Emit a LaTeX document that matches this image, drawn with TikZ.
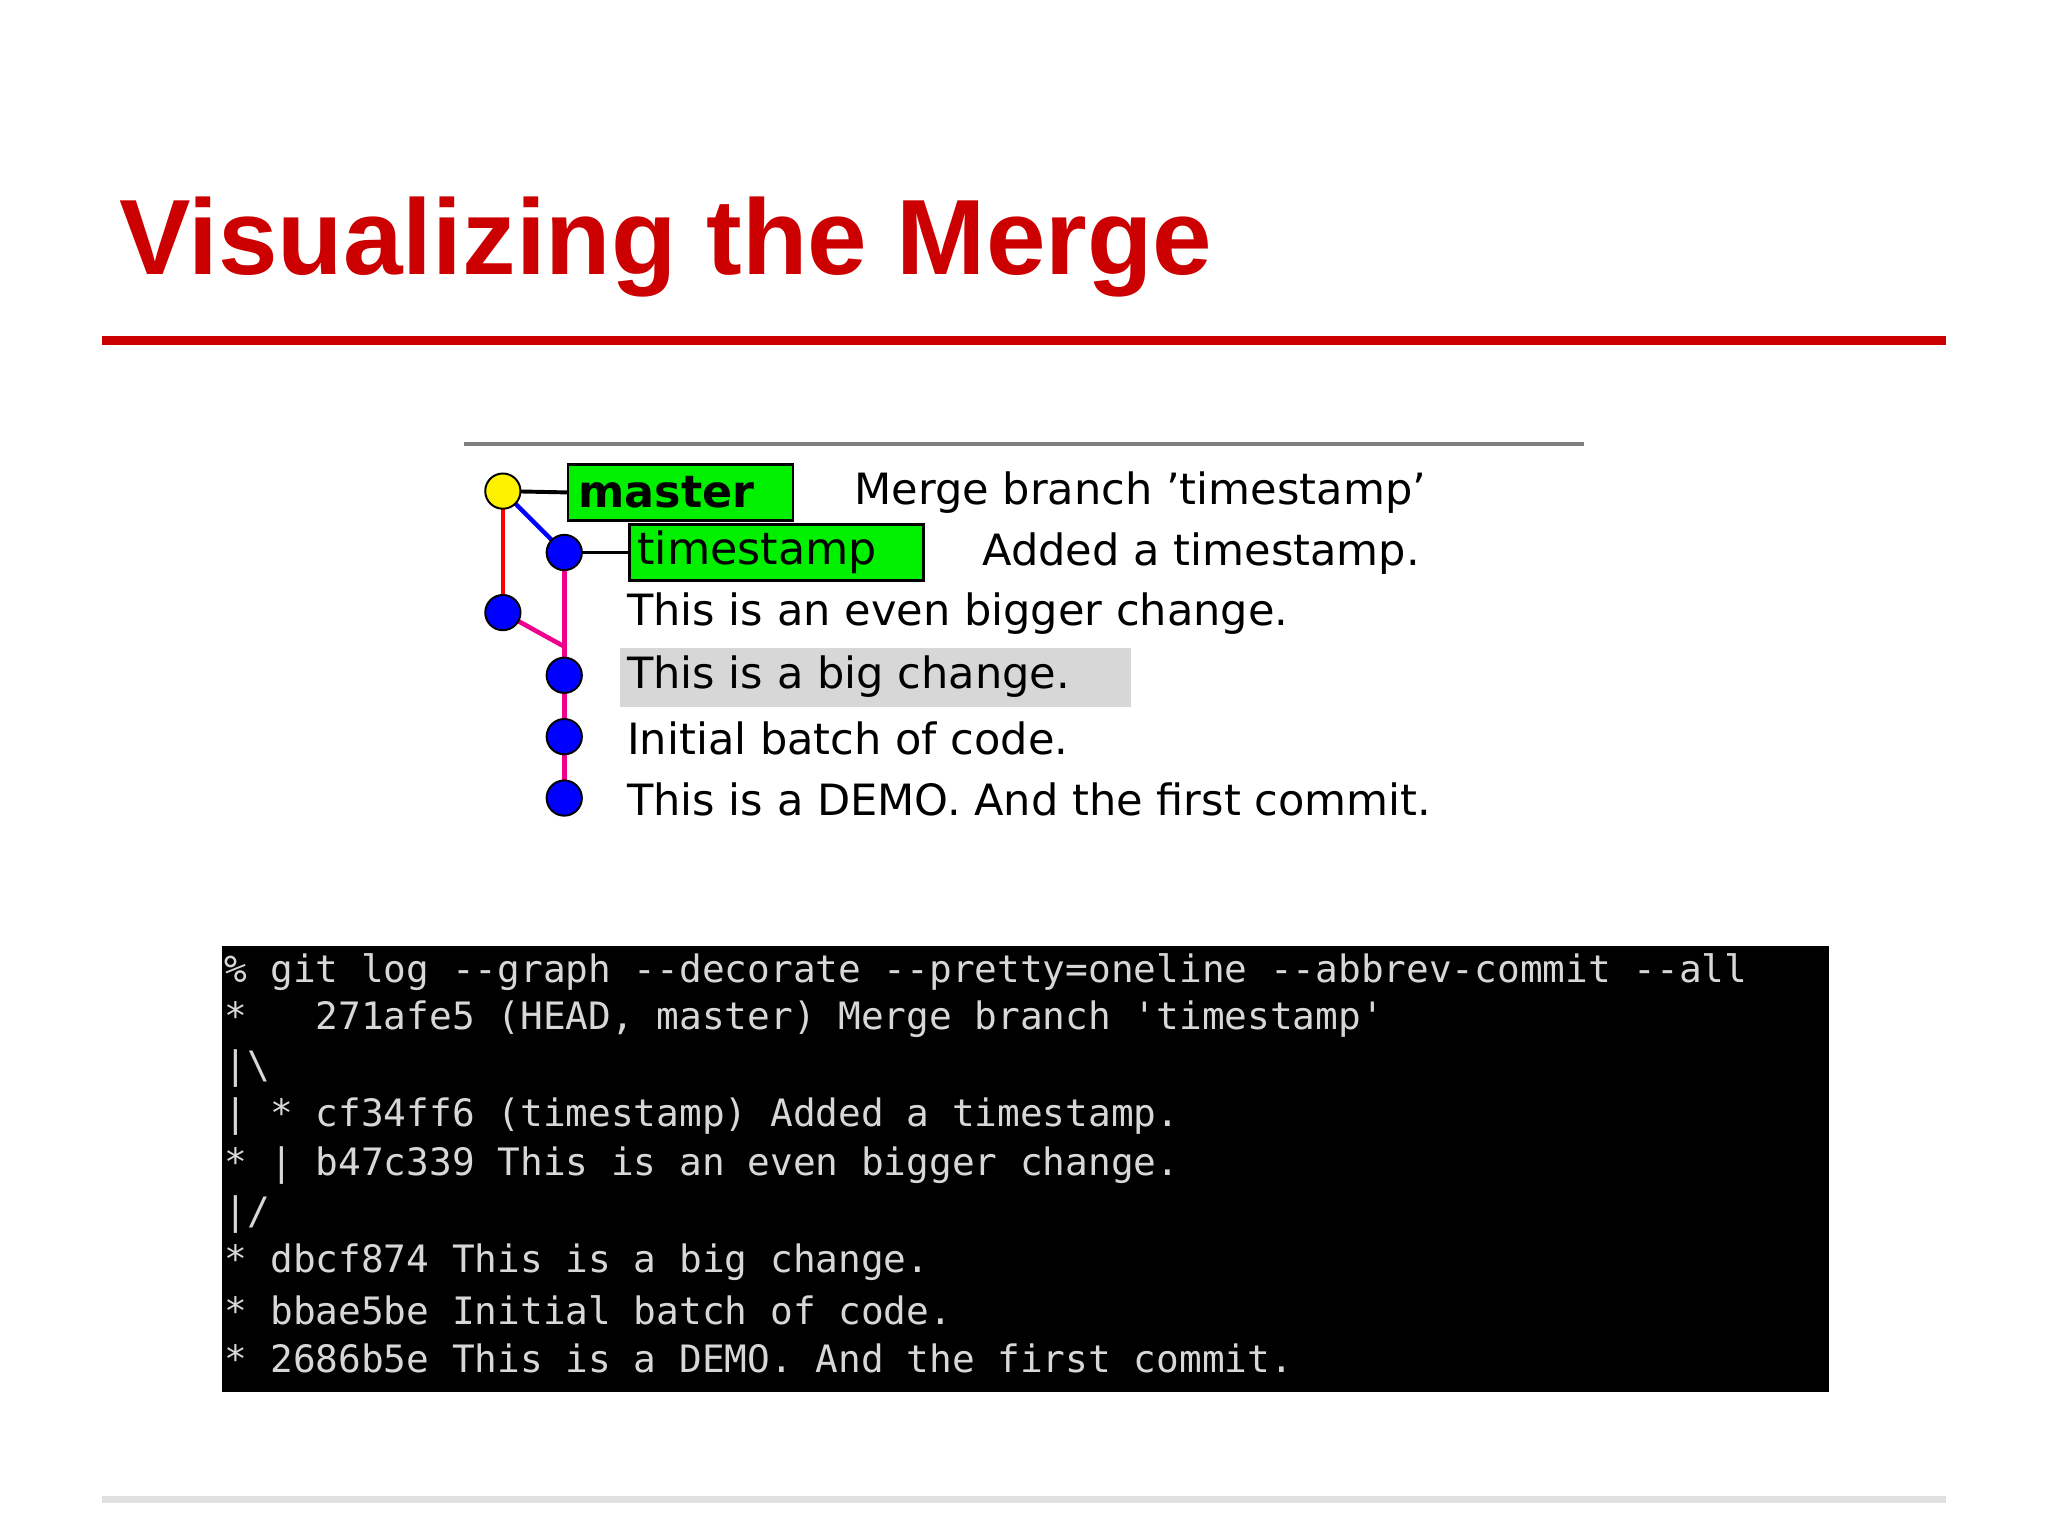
\documentclass[tikz,border=0pt]{standalone}
\usepackage{fontspec}
\setmainfont{DejaVu Sans}
\setmonofont{DejaVu Sans Mono}
\newfontfamily\titlefont{Liberation Sans}
\definecolor{slidered}{RGB}{204,0,0}
\definecolor{termfg}{RGB}{215,215,215}
\definecolor{gitgreen}{RGB}{0,240,0}
\definecolor{hl}{RGB}{215,215,215}
\begin{document}
\begin{tikzpicture}[x=1pt,y=-1pt,
  commit/.style={circle,draw=black,line width=1.5pt,minimum size=27pt,inner sep=0pt},
  tag/.style={draw=black,line width=2pt,fill=gitgreen,inner sep=0pt,minimum height=43pt,anchor=west,font=\fontsize{34}{34}\selectfont},
  msg/.style={anchor=west,inner sep=0pt,font=\fontsize{33}{33}\selectfont},
  tline/.style={anchor=west,inner sep=0pt,text=termfg,font=\ttfamily\fontsize{28.9}{29}\selectfont}]
\useasboundingbox[fill=white] (0,0) rectangle (1568,1176);
% title
\node[anchor=base west,inner sep=0pt,text=slidered,font=\titlefont\bfseries\fontsize{82}{82}\selectfont] (title) at (91,210) {Visualizing the Merge};
\fill[slidered] (78,257.5) rectangle (1490,264.5);
\fill[black!12] (78,1145) rectangle (1490,1151);
\fill[black!50] (355,338.5) rectangle (1213,341.5);
% highlight
\fill[hl] (475,496) rectangle (866,541);
% commits
\coordinate (c1) at (385,376);
\coordinate (c2) at (432,423);
\coordinate (c3) at (385,469);
\coordinate (c4) at (432,517);
\coordinate (c5) at (432,564);
\coordinate (c6) at (432,611);
\coordinate (mj) at (432,495);
\draw[red,line width=3.5pt] (c1) -- (c3);
\draw[blue,line width=3.5pt] (c1) -- (c2);
\draw[magenta,line width=3.5pt] (c2) -- (mj) -- (c6);
\draw[magenta,line width=3.5pt] (c3) -- (mj);
\node[tag,text width=172pt,align=left] (master) at (434,377) {\hspace{8pt}\bfseries master};
\node[tag,text width=225pt,align=left] (ts) at (481,423) {\hspace{6pt}timestamp};
\draw[black,line width=3pt] (c1) -- (master.west);
\draw[black,line width=3pt] (c2) -- (ts.west);
\node[commit,fill=yellow] (n1) at (c1) {};
\foreach \c in {2,...,6} \node[commit,fill=blue] (n\c) at (c\c) {};
% messages
\node[msg] (m1) at (654,377) {Merge branch \char"27timestamp\char"27};
\node[msg] (m2) at (752,424) {Added a timestamp.};
\node[msg] (m3) at (480,470) {This is an even bigger change.};
\node[msg] (m4) at (480,518) {This is a big change.};
\node[msg] (m5) at (480,565) {Initial batch of code.};
\node[msg] (m6) at (480,612) {This is a DEMO. And the first commit.};
% terminal
\fill[black] (170,724) rectangle (1400,1066);
\node[tline] (t1) at (172,744) {\%\ git\ log\ --graph\ --decorate\ --pretty=oneline\ --abbrev-commit\ --all};
\node[tline] (t2) at (172,780) {*\ \ \ 271afe5\ (HEAD,\ master)\ Merge\ branch\ \char"27timestamp\char"27};
\node[tline] (t3) at (172,818) {|\textbackslash};
\node[tline] (t4) at (172,855) {|\ *\ cf34ff6\ (timestamp)\ Added\ a\ timestamp.};
\node[tline] (t5) at (172,892) {*\ |\ b47c339\ This\ is\ an\ even\ bigger\ change.};
\node[tline] (t6) at (172,930) {|/};
\node[tline] (t7) at (172,966) {*\ dbcf874\ This\ is\ a\ big\ change.};
\node[tline] (t8) at (172,1003) {*\ bbae5be\ Initial\ batch\ of\ code.};
\node[tline] (t9) at (172,1040) {*\ 2686b5e\ This\ is\ a\ DEMO.\ And\ the\ first\ commit.};
\end{tikzpicture}
\end{document}
